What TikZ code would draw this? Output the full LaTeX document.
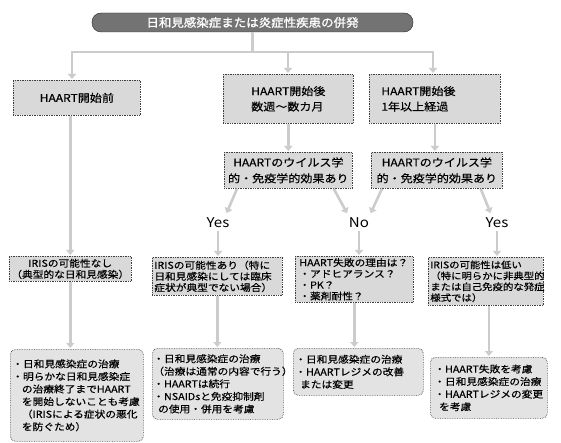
\documentclass[tikz,border=0pt]{standalone}
\usepackage{fontspec}
\setmainfont{Noto Sans CJK JP}[FakeStretch=1.12, FakeBold=0.35]
\newfontfamily\titlefont{Noto Sans CJK JP}[FakeStretch=1.08, FakeBold=1.3]
\newfontfamily\lblfont{Noto Sans CJK JP}[FakeStretch=1.12]
\usetikzlibrary{arrows.meta}
\begin{document}
\begin{tikzpicture}[x=1bp,y=-1bp,
  every node/.style={inner sep=2bp},
  box/.style={draw=black!75, densely dotted, line width=0.7bp, fill=gray!30, anchor=north west,
    font=\fontsize{10.8}{15.5}\selectfont},
  mid/.style={draw=black!75, densely dotted, line width=0.7bp, fill=gray!30, anchor=north west,
    inner ysep=1bp, font=\fontsize{9.6}{11.2}\selectfont},
  soft/.style={draw=black!70, densely dotted, line width=0.7bp, fill=gray!22, rounded corners=5bp,
    anchor=north west, font=\fontsize{9.6}{12.6}\selectfont},
  head/.style={draw=black!85, fill=black!55, rounded corners=9bp, text=white,
    minimum width=321bp, minimum height=19bp, font=\titlefont\fontsize{11.6}{14}\selectfont},
  lbl/.style={inner sep=1bp, font=\lblfont\fontsize{13.5}{13.5}\selectfont},
  ln/.style={draw=gray!40, line width=2.6bp},
  arr/.style={draw=gray!40, line width=2.6bp, -{Triangle[length=5bp,width=8bp]}, shorten >=1bp}
]
\useasboundingbox[fill=white] (0,0) rectangle (561,443);

% title
\node[head] (t) at (252.5,22.5) {日和見感染症または炎症性疾患の併発};

% first row
\node[box, minimum width=127bp, minimum height=35bp, align=center] (b1) at (13,80) {HAART開始前};
\node[box, minimum width=130bp, minimum height=49bp, align=left] (b2) at (223,74) {HAART開始後\\数週～数カ月};
\node[box, minimum width=131bp, minimum height=49bp, inner xsep=12bp, text width=107bp, align=left] (b3) at (369,74) {HAART開始後\\1年以上経過};

% second row
\node[box, minimum width=128bp, minimum height=36bp, align=center, font=\fontsize{10.8}{16}\selectfont] (b4) at (224,152) {HAARTのウイルス学\\的・免疫学的効果あり};
\node[box, minimum width=131bp, minimum height=36bp, align=center, font=\fontsize{10.8}{16}\selectfont] (b5) at (371,152) {HAARTのウイルス学\\的・免疫学的効果あり};

% labels
\node[lbl] (y1) at (218,223) {Yes};
\node[lbl] (no) at (359,223) {No};
\node[lbl] (y2) at (497,223) {Yes};

% third row
\node[mid, minimum width=121bp, minimum height=25bp, align=center] (r1) at (9,256) {IRISの可能性なし\\（典型的な日和見感染）};
\node[mid, minimum width=130bp, minimum height=38bp, inner xsep=2bp, text width=126bp, align=left] (r2) at (152,257) {IRISの可能性あり（特に\\日和見感染にしては臨床\\症状が典型でない場合）};
\node[mid, minimum width=118bp, minimum height=46bp, inner xsep=4bp, text width=110bp, align=left] (r3) at (295,256) {HAART失敗の理由は？\\・アドヒアランス？\\・PK？\\・薬剤耐性？};
\node[mid, minimum width=115bp, minimum height=48bp, inner xsep=2bp, text width=111bp, align=left, font=\fontsize{9.3}{11}\selectfont] (r4) at (428,257) {IRISの可能性は低い\\（特に明らかに非典型的\\または自己免疫的な発症\\様式では）};

% fourth row
\node[soft, minimum width=133bp, minimum height=92bp, inner xsep=2bp, text width=129bp, align=left] (s1) at (10,349) {・日和見感染症の治療\\・明らかな日和見感染症\\\hspace*{1em}の治療終了までHAART\\\hspace*{1em}を開始しないことも考慮\\\hspace*{1em}（IRISによる症状の悪化\\\hspace*{1em}を防ぐため）};
\node[soft, minimum width=131bp, minimum height=71bp, inner xsep=1bp, text width=129bp, align=left] (s2) at (152,348) {・日和見感染症の治療\\（治療は通常の内容で行う）\\・HAARTは続行\\・NSAIDsと免疫抑制剤\\\hspace*{0.5em}の使用・併用を考慮};
\node[soft, minimum width=130bp, minimum height=47bp, inner xsep=2bp, text width=126bp, align=left] (s3) at (293,348) {・日和見感染症の治療\\・HAARTレジメの改善\\\hspace*{0.5em}または変更};
\node[soft, minimum width=117bp, minimum height=61bp, inner xsep=4bp, text width=109bp, align=left] (s4) at (430,357) {・HAART失敗を考慮\\・日和見感染症の治療\\・HAARTレジメの変更\\\hspace*{0.5em}を考慮};

% connectors from title
\coordinate (j) at (252.5,52);
\coordinate (hL) at (72,52);
\coordinate (hM) at (288,52);
\coordinate (hR) at (433,52);
\draw[ln] (t.south) -- (j);
\draw[ln] ([xshift=-1.3bp]hL) -- ([xshift=1.3bp]hR);
\draw[arr] (hL) -- (hL |- b1.north);
\draw[arr] (hM) -- (hM |- b2.north);
\draw[arr] (hR) -- (hR |- b3.north);

% down the columns
\draw[arr] (r1.north |- b1.south) -- (r1.north);
\draw[arr] (b2.south) -- (b2.south |- b4.north);
\draw[arr] (b3.south) -- (b3.south |- b5.north);

% to the Yes / No labels
\draw[arr, shorten >=4bp] ([xshift=13bp]b4.south west) -- ([xshift=7bp]y1.north);
\draw[arr, shorten >=4bp] ([xshift=-19bp]b4.south east) -- ([xshift=-10bp]no.north);
\draw[arr, shorten >=4bp] ([xshift=11bp]b5.south west) -- ([xshift=10bp]no.north);
\draw[arr, shorten >=4bp] ([xshift=-22bp]b5.south east) -- ([xshift=-5bp]y2.north);

% from the labels
\draw[arr, shorten <=2bp] (y1.south) -- (y1.south |- r2.north);
\draw[arr, shorten <=2bp] (no.south) -- (no.south |- r3.north);
\draw[arr, shorten <=2bp] (y2.south) -- (y2.south |- r4.north);

% to the last row
\draw[arr] (r1.south) -- (r1.south |- s1.north);
\draw[arr] (r2.south) -- (r2.south |- s2.north);
\draw[arr] (r3.south) -- (r3.south |- s3.north);
\draw[arr] (s4.north |- r4.south) -- (s4.north);
\end{tikzpicture}
\end{document}
